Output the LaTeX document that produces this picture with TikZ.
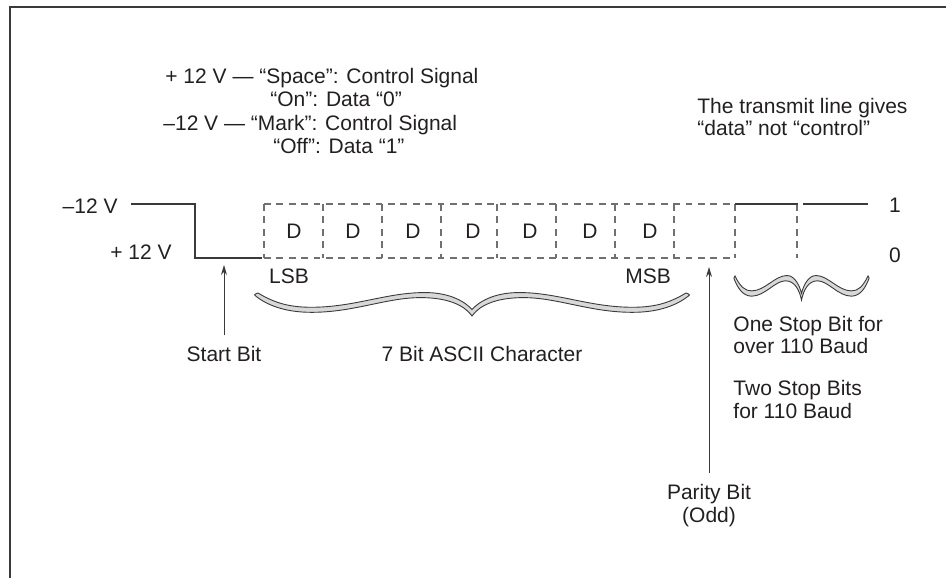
\documentclass[tikz,border=0pt]{standalone}
\usepackage{fontspec}
\setmainfont{Liberation Sans}
\usetikzlibrary{arrows.meta}

\definecolor{ink}{HTML}{231F20}
\definecolor{wire}{HTML}{3A3A3A}
\definecolor{dashgray}{HTML}{707070}
\definecolor{bracefill}{HTML}{D8D8D8}

\tikzset{
  lbl/.style={inner sep=0pt, text=ink, font=\fontsize{10.5}{12}\selectfont},
  signal/.style={draw=wire, line width=0.65pt},
  bitline/.style={draw=dashgray, line width=0.6pt, dash pattern=on 3.4pt off 2.8pt},
  pointer/.style={draw=wire, line width=0.5pt, -{Stealth[length=5pt,width=3pt]}, shorten <=5pt},
  curly/.pic={
    \filldraw[draw=wire, fill=bracefill, line width=0.45pt] (0,0)
      .. controls (0.08,0.45) and (0.15,0.62) .. (0.25,0.62)
      .. controls (0.45,0.62) and (0.6,-0.02) .. (0.78,-0.02)
      .. controls (0.9,-0.02) and (0.97,0.4) .. (1,0.72)
      .. controls (1.03,0.4) and (1.1,-0.02) .. (1.22,-0.02)
      .. controls (1.4,-0.02) and (1.55,0.62) .. (1.75,0.62)
      .. controls (1.85,0.62) and (1.92,0.45) .. (2,0)
      .. controls (2.02,0.05) and (2.02,0.12) .. (2.01,0.14)
      .. controls (1.96,0.5) and (1.88,0.84) .. (1.75,0.84)
      .. controls (1.55,0.84) and (1.4,0.2) .. (1.24,0.2)
      .. controls (1.1,0.2) and (1.03,0.6) .. (1,1)
      .. controls (0.97,0.6) and (0.9,0.2) .. (0.76,0.2)
      .. controls (0.6,0.2) and (0.45,0.84) .. (0.25,0.84)
      .. controls (0.12,0.84) and (0.04,0.5) .. (-0.01,0.14)
      .. controls (-0.02,0.12) and (-0.02,0.05) .. (0,0) -- cycle;
  }
}

\begin{document}
\begin{tikzpicture}[x=0.5pt, y=-0.5pt]
\useasboundingbox (0,0) rectangle (946,578);

% frame
\draw[wire, line width=1.4pt] (10,578) -- (10,7) -- (946,7);

% voltage legend
\node[lbl, anchor=base west] (space) at (165,83) {+ 12 V — “Space”: Control Signal};
\node[lbl, anchor=base west] (spaceon) at (270,106) {“On”: Data “0”};
\node[lbl, anchor=base west] (mark) at (163,130) {–12 V — “Mark”: Control Signal};
\node[lbl, anchor=base west] (markoff) at (273,153) {“Off”: Data “1”};

\node[lbl, anchor=base west] (note1) at (697,113) {The transmit line gives};
\node[lbl, anchor=base west] (note2) at (697,135) {“data” not “control”};

% levels
\node[lbl, anchor=base east] (vhigh) at (118,213.5) {–12 V};
\node[lbl, anchor=base east] (vlow) at (172,259.5) {+ 12 V};
\node[lbl, anchor=base] (one) at (895,212) {1};
\node[lbl, anchor=base] (zero) at (895,262.5) {0};

% start bit
\draw[signal] (131,204) -- (195,204) -- (195,258) -- (262,258);

% data and parity bits
\draw[bitline] (264,204) -- (735,204);
\draw[bitline] (264,258) -- (735,258);
\foreach \x in {264,323,382,441,497,556,615,674,735,797}
  \draw[bitline] (\x,204) -- (\x,258);
\foreach \x [count=\i] in {294,353,413,473,530,590,650}
  \node[lbl, anchor=base] (d\i) at (\x,238.5) {D};

% stop bits
\draw[signal] (735,204) -- (798,204);
\draw[signal] (803,204) -- (868,204);

\node[lbl, anchor=base] (lsb) at (289,283.5) {LSB};
\node[lbl, anchor=base] (msb) at (648,283.5) {MSB};

% braces
\pic[xscale=214, yscale=23] at (258,293) {curly};
\pic[xscale=66.5, yscale=24] at (735,276) {curly};

\node[lbl, anchor=base] (startbit) at (224,361) {Start Bit};
\node[lbl, anchor=base] (ascii) at (482,361) {7 Bit ASCII Character};
\coordinate (starttip) at (223,265);
\draw[pointer] (startbit.north) -- (startbit.north |- starttip);

\node[lbl, anchor=base west] (stop1) at (733,331) {One Stop Bit for};
\node[lbl, anchor=base west] (stop2) at (733,353) {over 110 Baud};
\node[lbl, anchor=base west] (stop3) at (733,395) {Two Stop Bits};
\node[lbl, anchor=base west] (stop4) at (733,418) {for 110 Baud};

\node[lbl, anchor=base] (parity) at (709,499) {Parity Bit};
\node[lbl, anchor=base] (odd) at (709,522) {(Odd)};
\coordinate (paritytip) at (709,267);
\draw[pointer] (parity.north) -- (parity.north |- paritytip);
\end{tikzpicture}
\end{document}
